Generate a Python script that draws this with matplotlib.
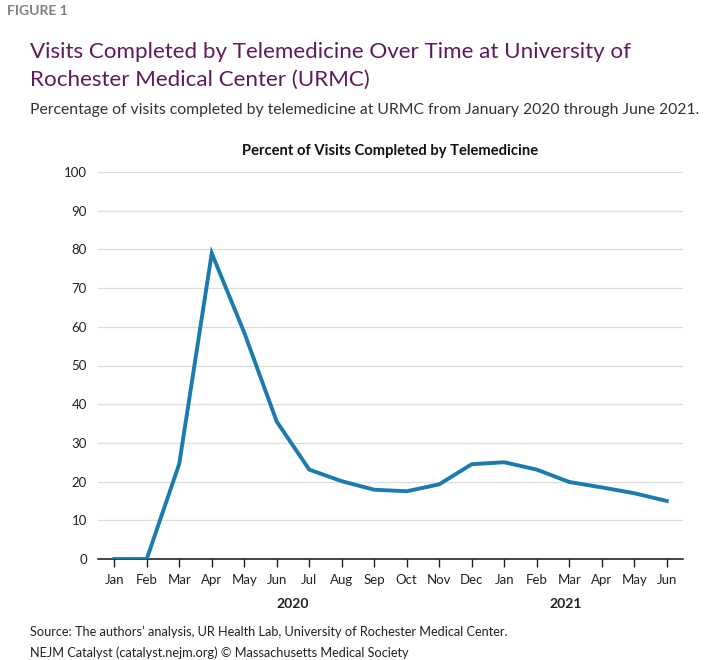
import numpy as np
import matplotlib.pyplot as plt

# Datos (porcentaje de visitas por telemedicina)
months = ["Jan", "Feb", "Mar", "Apr", "May", "Jun", "Jul", "Aug", "Sep",
          "Oct", "Nov", "Dec", "Jan", "Feb", "Mar", "Apr", "May", "Jun"]
percent = [0, 0, 24.6, 79, 58.5, 35.5, 23.1, 20.1, 17.9,
           17.5, 19.3, 24.5, 25.0, 23.1, 19.9, 18.5, 17.0, 15.0]
years = ["2020", "2021"]
year_pos = [5.5, 13.9]
yticks = [0, 10, 20, 30, 40, 50, 60, 70, 80, 90, 100]

purple = "#5e1b5c"
blue = "#1a7bb1"
font = ["Lato", "DejaVu Sans"]

plt.rcParams["font.family"] = font

fig = plt.figure(figsize=(7.09, 6.6), dpi=100)
ax = fig.add_axes([98 / 709, 1 - 559 / 660, 585 / 709, (559 - 172) / 660])

x = np.arange(len(months))
ax.plot(x, percent, color=blue, linewidth=2.8, solid_joinstyle="miter", zorder=3)

ax.set_xlim(-0.5, len(months) - 0.5)
ax.set_ylim(0, 100)
ax.set_yticks(yticks)
ax.set_yticklabels([str(v) for v in yticks], fontsize=9.5, color="#222222")
ax.set_xticks(x)
ax.set_xticklabels(months, fontsize=9.5, color="#222222")
ax.tick_params(axis="y", length=0, pad=8)
ax.tick_params(axis="x", length=6, width=1, color="#222222", pad=5)

ax.grid(axis="y", color="#dddddd", linewidth=0.9)
ax.set_axisbelow(True)
for s in ["top", "right", "left"]:
    ax.spines[s].set_visible(False)
ax.spines["bottom"].set_color("#111111")
ax.spines["bottom"].set_linewidth(1.1)

# Etiquetas de los años debajo de los meses
for yr, pos in zip(years, year_pos):
    ax.text(pos, -11.5, yr, ha="center", va="center", fontsize=10,
            fontweight="bold", color="#222222", transform=ax.transData)

ax.set_title("Percent of Visits Completed by Telemedicine", fontsize=10.6,
             fontweight="bold", color="#111111", pad=12)

# Textos de la figura
fig.text(7 / 709, 1 - 11 / 660, "FIGURE 1", fontsize=10, fontweight="bold",
         color="#808080", va="center", ha="left")
fig.text(30 / 709, 1 - 52 / 660, "Visits Completed by Telemedicine Over Time at University of",
         fontsize=16.1, color=purple, va="center", ha="left")
fig.text(30 / 709, 1 - 80 / 660, "Rochester Medical Center (URMC)",
         fontsize=16.1, color=purple, va="center", ha="left")
fig.text(30 / 709, 1 - 110 / 660,
         "Percentage of visits completed by telemedicine at URMC from January 2020 through June 2021.",
         fontsize=11.3, color="#333333", va="center", ha="left")
fig.text(30 / 709, 1 - 632 / 660,
         "Source: The authors\u2019 analysis, UR Health Lab, University of Rochester Medical Center.",
         fontsize=9.2, color="#222222", va="center", ha="left")
fig.text(30 / 709, 1 - 653 / 660,
         "NEJM Catalyst (catalyst.nejm.org) \u00a9 Massachusetts Medical Society",
         fontsize=9.2, color="#222222", va="center", ha="left")

fig.savefig("out.png", dpi=100)
